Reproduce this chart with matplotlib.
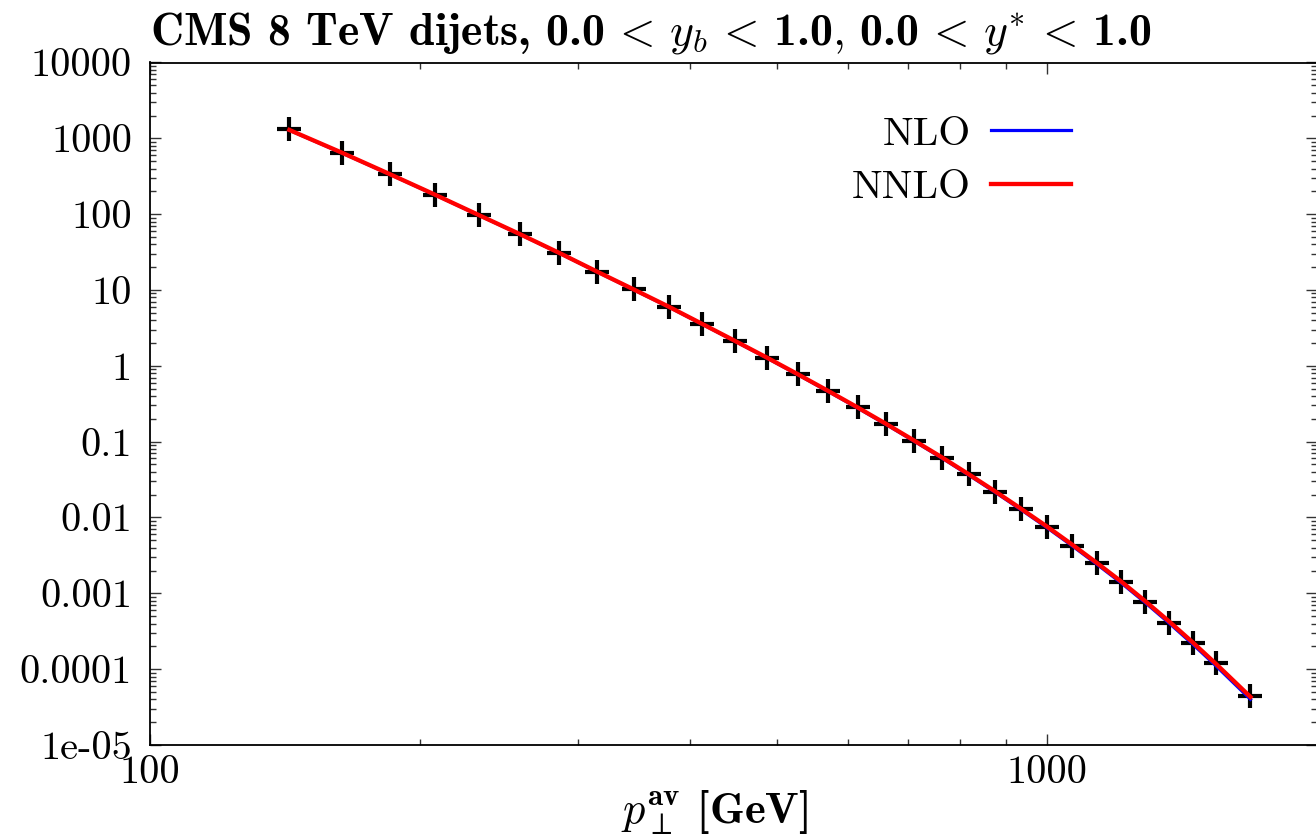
import matplotlib
matplotlib.use("Agg")
import matplotlib.pyplot as plt
from matplotlib.ticker import FixedLocator, FixedFormatter, NullFormatter, LogLocator

plt.rcParams['mathtext.fontset'] = 'cm'
plt.rcParams['font.family'] = ['cmr10', 'DejaVu Serif']
plt.rcParams['axes.unicode_minus'] = False

# bin centres of p_T^av [GeV]
pt = [143, 163.5, 185, 208, 232.5, 258.5, 286, 315, 346, 378.5, 412.5, 449,
      487.5, 527.5, 570, 615, 662, 711.5, 763.5, 818, 875.5, 936, 999.5,
      1066.5, 1136.5, 1210, 1287.5, 1368.5, 1453.5, 1542.5, 1686]

data = [1315, 646, 336, 177, 96.7, 54.2, 30.5, 17.4, 10.2, 6.02, 3.56, 2.12,
        1.28, 0.773, 0.466, 0.284, 0.169, 0.102, 0.0615, 0.0372, 0.0219,
        0.0129, 0.00757, 0.00421, 0.00249, 0.00142, 0.00076, 0.000403,
        0.000219, 0.000119, 4.47e-5]

nnlo = [1290, 650, 338, 180, 97.5, 54.5, 30.8, 17.5, 10.2, 6.05, 3.58, 2.13,
        1.28, 0.775, 0.468, 0.283, 0.171, 0.103, 0.0622, 0.0372, 0.0221,
        0.0130, 0.00763, 0.00440, 0.00252, 0.00143, 0.000785, 0.000425,
        0.000226, 0.000118, 4.3e-5]

nlo = [1280, 645, 336, 179, 97.0, 54.2, 30.6, 17.4, 10.1, 6.00, 3.55, 2.11,
       1.265, 0.765, 0.461, 0.278, 0.168, 0.1010, 0.0609, 0.0363, 0.0215,
       0.01262, 0.00738, 0.00424, 0.00242, 0.00137, 0.000750, 0.000404,
       0.000214, 0.000111, 4.0e-5]

ytick_vals = [1e-5, 1e-4, 1e-3, 1e-2, 1e-1, 1, 10, 100, 1000, 10000]
ytick_labels = ['1e-05', '0.0001', '0.001', '0.01', '0.1', '1', '10', '100',
                '1000', '10000']
xtick_vals = [100, 1000]
xtick_labels = ['100', '1000']

W, H = 1316, 840
fig = plt.figure(figsize=(W / 100, H / 100), dpi=100)
ax = fig.add_axes([150 / W, 1 - 745 / H, (1317 - 150) / W, (745 - 62.5) / H])

ax.plot(pt, data, linestyle='none', marker='+', color='black',
        markersize=17, markeredgewidth=3.0, zorder=2)
ax.plot(pt, nlo, color='#0000ff', lw=2.3, label='NLO', zorder=3)
ax.plot(pt, nnlo, color='#ff0000', lw=3.1, label='NNLO', zorder=4)

ax.set_xscale('log')
ax.set_yscale('log')
ax.set_xlim(100, 2000)
ax.set_ylim(1e-5, 1e4)

ax.xaxis.set_major_locator(FixedLocator(xtick_vals))
ax.xaxis.set_major_formatter(FixedFormatter(xtick_labels))
ax.xaxis.set_minor_locator(FixedLocator([200, 300, 400, 500, 600, 700, 800, 900]))
ax.xaxis.set_minor_formatter(NullFormatter())
ax.yaxis.set_major_locator(FixedLocator(ytick_vals))
ax.yaxis.set_major_formatter(FixedFormatter(ytick_labels))
ax.yaxis.set_minor_locator(LogLocator(base=10, subs=range(2, 10), numticks=100))
ax.yaxis.set_minor_formatter(NullFormatter())

ax.tick_params(which='both', direction='in', top=True, right=True, color='#333333')
ax.tick_params(which='major', length=8, width=1.0, labelsize=29)
ax.tick_params(which='minor', length=4.2, width=1.0)
ax.tick_params(axis='y', which='major', pad=13)
ax.tick_params(axis='x', which='major', pad=7)
for s in ax.spines.values():
    s.set_linewidth(1.3)

leg = ax.legend(loc='center right', bbox_to_anchor=(1071 / W, 1 - 161 / H),
                bbox_transform=fig.transFigure, frameon=False, markerfirst=False,
                fontsize=29.5, handlelength=1.95, handletextpad=0.5,
                labelspacing=0.4, borderpad=0, borderaxespad=0)

fig.text(150 / W, 1 - 45 / H,
         r'CMS 8 TeV dijets, 0.0$\,<\,y_b\,<\,$1.0$,\,$0.0$\,<\,y^{*}\,<\,$1.0',
         fontsize=33, fontfamily='cmb10', ha='left', va='baseline')

fig.text(715 / W, 1 - 824 / H,
         r'$p_{\perp}^{\mathbf{av}}$ [GeV]',
         fontsize=32, fontfamily='cmb10', ha='center', va='baseline')

fig.savefig('out.png', dpi=100)
